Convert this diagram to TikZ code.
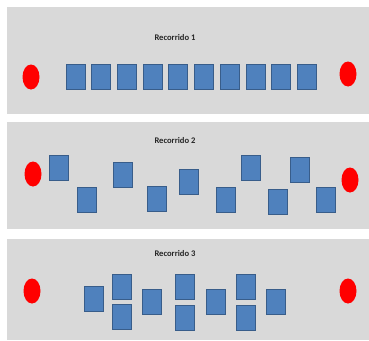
\documentclass[tikz,border=0pt]{standalone}
\usepackage{fontspec}
\setmainfont{Carlito}
\definecolor{panelgrey}{HTML}{D9D9D9}
\definecolor{boxblue}{HTML}{4F81BD}
\definecolor{boxedge}{HTML}{385D8A}
\definecolor{dotred}{HTML}{FF0000}
\tikzset{
  panel/.style={fill=panelgrey, draw=none},
  seat/.style={rectangle, fill=boxblue, draw=boxedge, line width=0.7pt, minimum width=19pt, minimum height=25pt, inner sep=0pt},
  post/.style={ellipse, fill=dotred, draw=none, minimum width=17pt, minimum height=25pt, inner sep=0pt},
  ttl/.style={font=\fontsize{8.6}{10}\selectfont\bfseries, text=black!85, inner sep=0pt}
}
\usetikzlibrary{shapes.geometric}
\begin{document}
\begin{tikzpicture}[x=1pt,y=-1pt]
\useasboundingbox (0,0) rectangle (369,340);
\fill[white] (0,0) rectangle (369,340);
% panels
\fill[panel] (7,7) rectangle (369,114);
\fill[panel] (7,122) rectangle (369,229);
\fill[panel] (7,239) rectangle (369,340);
% Panel 1
\node[ttl] (t1) at (175,38) {Recorrido 1};
\node[post] (a1l) at (31,77) {};
\node[post] (a1r) at (348,74) {};
\foreach \i in {0,...,9} {
  \node[seat] (a1s\i) at ({75.5+25.7*\i},76.7) {};
}
% Panel 2
\node[ttl] (t2) at (175,141) {Recorrido 2};
\node[post] (a2l) at (33,174) {};
\node[post] (a2r) at (350,180) {};
\node[seat] (b1) at (58.7,168) {};
\node[seat] (b2) at (87,199.5) {};
\node[seat] (b3) at (123.3,175) {};
\node[seat] (b4) at (156.7,199) {};
\node[seat] (b5) at (188.7,181.7) {};
\node[seat] (b6) at (225.7,200) {};
\node[seat] (b7) at (250.7,167.5) {};
\node[seat] (b8) at (278.3,201.5) {};
\node[seat] (b9) at (299.7,170) {};
\node[seat] (b10) at (325.7,199.5) {};
% Panel 3
\node[ttl] (t3) at (175,254) {Recorrido 3};
\node[post] (a3l) at (32,291) {};
\node[post] (a3r) at (348,291) {};
\node[seat] (c1) at (93.7,299) {};
\node[seat] (c2) at (121.7,286.7) {};
\node[seat] (c3) at (121.7,317) {};
\node[seat] (c4) at (152.3,301.5) {};
\node[seat] (c5) at (185.3,287) {};
\node[seat] (c6) at (185.3,317.5) {};
\node[seat] (c7) at (215.7,302.3) {};
\node[seat] (c8) at (246.3,287) {};
\node[seat] (c9) at (246.3,317.5) {};
\node[seat] (c10) at (276.3,302.3) {};
\end{tikzpicture}
\end{document}
